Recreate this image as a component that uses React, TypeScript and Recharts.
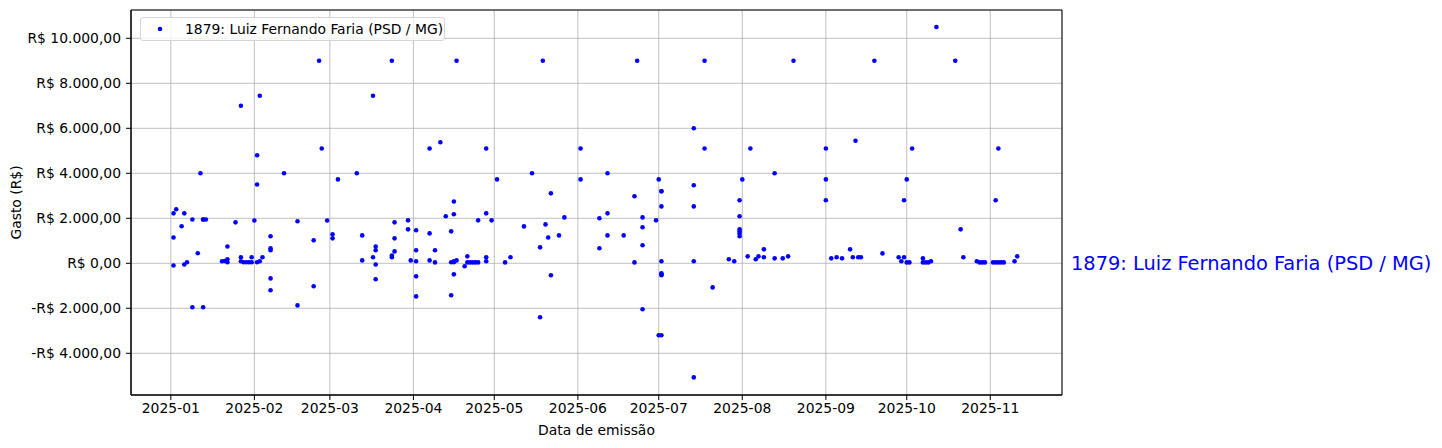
import React from 'react';
import {
  ScatterChart,
  Scatter,
  XAxis,
  YAxis,
  CartesianGrid,
  ReferenceArea,
  ReferenceLine,
  Legend,
} from 'recharts';

const SERIES_NAME = '1879: Luiz Fernando Faria (PSD / MG)';

// emission dates (MM-DD, year 2025) and amounts in R$
const emissionDates = [
  '01-02', '01-03', '01-02', '01-02', '01-06', '01-05', '01-06', '01-07', '01-09', '01-09',
  '01-11', '01-12', '01-13', '01-13', '01-14', '01-13', '01-20', '01-21', '01-22', '01-22',
  '01-22', '01-25', '01-27', '01-27', '01-27', '01-28', '01-29', '01-30', '01-31', '01-31',
  '02-01', '02-02', '02-02', '02-02', '02-03', '02-03', '02-04', '02-07', '02-07', '02-07',
  '02-07', '02-07', '02-12', '02-17', '02-17', '02-23', '02-23', '02-25', '02-26', '02-28',
  '03-02', '03-02', '03-04', '03-11', '03-13', '03-13', '03-17', '03-17', '03-18', '03-18',
  '03-18', '03-18', '03-24', '03-24', '03-24', '03-25', '03-25', '03-25', '03-30', '03-30',
  '03-31', '04-02', '04-02', '04-02', '04-02', '04-02', '04-07', '04-07', '04-07', '04-09',
  '04-09', '04-11', '04-13', '04-15', '04-15', '04-15', '04-16', '04-16', '04-16', '04-16',
  '04-16', '04-17', '04-17', '04-20', '04-21', '04-21', '04-22', '04-23', '04-24', '04-25',
  '04-25', '04-28', '04-28', '04-28', '04-28', '04-30', '05-02', '05-05', '05-07', '05-12',
  '05-15', '05-18', '05-18', '05-19', '05-20', '05-21', '05-22', '05-22', '05-25', '05-27',
  '06-02', '06-02', '06-09', '06-09', '06-12', '06-12', '06-12', '06-18', '06-22', '06-22',
  '06-23', '06-25', '06-25', '06-25', '06-25', '06-30', '07-01', '07-01', '07-02', '07-02',
  '07-02', '07-02', '07-02', '07-02', '07-02', '07-02', '07-14', '07-14', '07-14', '07-14',
  '07-14', '07-18', '07-18', '07-21', '07-27', '07-29', '07-31', '07-31', '07-31', '07-31',
  '07-31', '07-31', '08-01', '08-03', '08-04', '08-06', '08-07', '08-09', '08-09', '08-13',
  '08-13', '08-16', '08-18', '08-20', '09-01', '09-01', '09-01', '09-03', '09-05', '09-07',
  '09-10', '09-11', '09-12', '09-13', '09-14', '09-19', '09-22', '09-28', '09-29', '09-30',
  '09-30', '10-01', '10-01', '10-02', '10-03', '10-07', '10-07', '10-08', '10-09', '10-10',
  '10-12', '10-19', '10-21', '10-22', '10-27', '10-28', '10-29', '10-30', '11-02', '11-03',
  '11-03', '11-04', '11-04', '11-05', '11-06', '11-10', '11-11',
];

const amounts = [
  2220, 2400, 1150, -100, 2220, 1650, -50, 50, 1950, -1950,
  450, 4000, 1950, 1950, 1950, -1950, 90, 100, 750, 180,
  50, 1820, 7000, 270, 90, 50, 50, 50, 270, 50,
  1900, 4800, 3500, 50, 7450, 90, 270, 1200, 670, 580,
  -670, -1200, 4000, 1870, -1870, 1020, -1020, 9000, 5100, 1900,
  1290, 1110, 3730, 4000, 1240, 130, 7450, 270, 750, 580,
  -50, -710, 9000, 270, 350, 1820, 1110, 530, 1910, 1510,
  130, 1470, 580, 90, -580, -1470, 5100, 1330, 130, 40,
  580, 5380, 2090, 1420, -1420, 50, 2750, 2180, -490, 90,
  50, 9000, 130, -130, 310, 40, 40, 40, 40, 1910,
  40, 5100, 2220, 270, 90, 1910, 3730, 40, 270, 1640,
  4000, 710, -2400, 9000, 1730, 1150, 3110, -530, 1240, 2040,
  5100, 3730, 2000, 670, 4000, 2220, 1240, 1240, 2980, 40,
  9000, 2040, 1600, 800, -2040, 1910, 3730, -3200, 3200, 3200,
  2530, 90, -530, -490, -440, -3200, 6000, 3470, 2530, 90,
  -5070, 9000, 5100, -1070, 180, 90, 2800, 2090, 1510, 1420,
  1330, 1200, 3730, 310, 5100, 180, 310, 620, 270, 4000,
  220, 220, 310, 9000, 5100, 3730, 2800, 220, 270, 220,
  620, 270, 5450, 270, 270, 9000, 440, 270, 90, 2800,
  270, 3730, 40, 40, 5100, 220, 40, 40, 40, 90,
  10500, 9000, 1510, 270, 90, 40, 40, 40, 40, 2800,
  40, 5100, 40, 40, 40, 90, 310,
];

const monthTicks = [
  '2025-01', '2025-02', '2025-03', '2025-04', '2025-05', '2025-06',
  '2025-07', '2025-08', '2025-09', '2025-10', '2025-11',
];

const amountTicks = [-4000, -2000, 0, 2000, 4000, 6000, 8000, 10000];

const DAY = 86400000;
const START = Date.UTC(2025, 0, 1);
const X_DOMAIN = [START - 14.77 * DAY, START + 330.6 * DAY];
const Y_DOMAIN = [-5853, 11258];

const toTime = (s: string) => {
  const [y, m, d] = s.split('-').map(Number);
  return Date.UTC(y, m - 1, d || 1);
};

const points = emissionDates.map((d, i) => ({ date: toTime('2025-' + d), value: amounts[i] }));
const xTicks = monthTicks.map(toTime);

const brl = (v: number) => {
  const abs = Math.abs(v)
    .toFixed(0)
    .replace(/\B(?=(\d{3})+(?!\d))/g, '.');
  return `${v < 0 ? '-' : ''}R$ ${abs},00`;
};

const monthLabel = (t: number) => {
  const d = new Date(t);
  return `${d.getUTCFullYear()}-${String(d.getUTCMonth() + 1).padStart(2, '0')}`;
};

const FONT = '"DejaVu Sans", sans-serif';
const tickStyle = { fill: '#000', fontSize: 13.9, fontFamily: FONT };

const LegendBox = () => (
  <div
    style={{
      border: '1px solid #d6d6d6',
      borderRadius: 3,
      background: 'rgba(255,255,255,0.8)',
      height: 24,
      width: 305,
      display: 'flex',
      alignItems: 'center',
      fontFamily: FONT,
      fontSize: 13.9,
      color: '#000',
      boxSizing: 'border-box',
    }}
  >
    <svg width={44} height={24}>
      <circle cx={19} cy={12} r={2.3} fill="#0000ff" />
    </svg>
    <span>{SERIES_NAME}</span>
  </div>
);

export default function App() {
  return (
    <div style={{ position: 'absolute', left: 0, top: 0, width: 1442, height: 448, background: '#fff' }}>
      <ScatterChart
        width={1442}
        height={448}
        margin={{ top: 10, right: 380, bottom: 13, left: 10 }}
      >
        <CartesianGrid stroke="#b0b0b0" strokeWidth={0.8} />
        <XAxis
          type="number"
          dataKey="date"
          domain={X_DOMAIN}
          ticks={xTicks}
          tickFormatter={monthLabel}
          allowDataOverflow
          height={40}
          tick={tickStyle}
          tickSize={5}
          tickMargin={3}
          stroke="#000"
          label={{
            content: (p: any) => (
              <text
                x={p.viewBox.x + p.viewBox.width / 2}
                y={p.viewBox.y + 35}
                textAnchor="middle"
                dominantBaseline="central"
                fill="#000"
                fontSize={13.9}
                fontFamily={FONT}
              >
                Data de emissão
              </text>
            ),
          }}
        />
        <YAxis
          type="number"
          dataKey="value"
          domain={Y_DOMAIN}
          ticks={amountTicks}
          tickFormatter={brl}
          allowDataOverflow
          width={121}
          tick={tickStyle}
          tickSize={5}
          tickMargin={5}
          stroke="#000"
          label={{
            content: (p: any) => {
              const cx = p.viewBox.x + 6;
              const cy = p.viewBox.y + p.viewBox.height / 2;
              return (
                <text
                  x={cx}
                  y={cy}
                  transform={`rotate(-90 ${cx} ${cy})`}
                  textAnchor="middle"
                  dominantBaseline="central"
                  fill="#000"
                  fontSize={13.9}
                  fontFamily={FONT}
                >
                  Gasto (R$)
                </text>
              );
            },
          }}
        />
        <ReferenceArea
          x1={X_DOMAIN[0]}
          x2={X_DOMAIN[1]}
          y1={Y_DOMAIN[0]}
          y2={Y_DOMAIN[1]}
          fill="none"
          stroke="#000"
          strokeWidth={1}
          ifOverflow="visible"
        />
        <ReferenceLine
          y={0}
          stroke="none"
          ifOverflow="visible"
          label={{
            value: SERIES_NAME,
            position: 'right',
            offset: 9,
            fill: '#0000ff',
            fontSize: 19.4,
            fontFamily: FONT,
          }}
        />
        <Scatter
          name={SERIES_NAME}
          data={points}
          fill="#0000ff"
          isAnimationActive={false}
          shape={(p: any) => <circle cx={p.cx} cy={p.cy} r={2.3} fill="#0000ff" />}
        />
        <Legend
          layout="vertical"
          align="center"
          verticalAlign="middle"
          content={() => <LegendBox />}
          wrapperStyle={{ left: 140, top: 17, width: 'auto', height: 'auto' }}
        />
      </ScatterChart>
    </div>
  );
}
